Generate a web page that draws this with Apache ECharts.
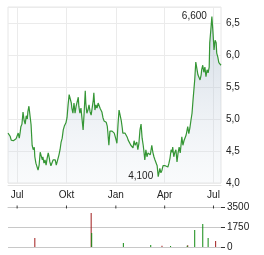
<!DOCTYPE html>
<html><head><meta charset="utf-8">
<script src="https://cdn.jsdelivr.net/npm/echarts@6/dist/echarts.min.js"></script>
<style>html,body{margin:0;padding:0;background:#fff}#c{width:264px;height:255px}</style>
</head><body><div id="c"></div>
<script>
const priceDates = ['2023-06-14','2023-06-16','2023-06-18','2023-06-20','2023-06-22','2023-06-24','2023-06-25','2023-06-27','2023-06-29','2023-07-01',
'2023-07-03','2023-07-05','2023-07-07','2023-07-08','2023-07-10','2023-07-12','2023-07-14','2023-07-16','2023-07-18','2023-07-20',
'2023-07-21','2023-07-23','2023-07-25','2023-07-27','2023-07-29','2023-07-31','2023-08-02','2023-08-03','2023-08-05','2023-08-07',
'2023-08-09','2023-08-11','2023-08-13','2023-08-15','2023-08-17','2023-08-18','2023-08-20','2023-08-22','2023-08-24','2023-08-26',
'2023-08-28','2023-08-30','2023-08-31','2023-09-02','2023-09-04','2023-09-06','2023-09-08','2023-09-10','2023-09-12','2023-09-13',
'2023-09-15','2023-09-17','2023-09-19','2023-09-21','2023-09-23','2023-09-25','2023-09-27','2023-09-28','2023-09-30','2023-10-02',
'2023-10-04','2023-10-06','2023-10-08','2023-10-10','2023-10-11','2023-10-13','2023-10-15','2023-10-17','2023-10-19','2023-10-21',
'2023-10-23','2023-10-24','2023-10-26','2023-10-28','2023-10-30','2023-11-01','2023-11-03','2023-11-05','2023-11-06','2023-11-08',
'2023-11-10','2023-11-12','2023-11-14','2023-11-16','2023-11-18','2023-11-20','2023-11-21','2023-11-23','2023-11-25','2023-11-27',
'2023-11-29','2023-12-01','2023-12-03','2023-12-04','2023-12-06','2023-12-08','2023-12-10','2023-12-12','2023-12-14','2023-12-16',
'2023-12-17','2023-12-19','2023-12-21','2023-12-23','2023-12-25','2023-12-27','2023-12-29','2023-12-30','2024-01-01','2024-01-03',
'2024-01-05','2024-01-07','2024-01-09','2024-01-11','2024-01-13','2024-01-14','2024-01-16','2024-01-18','2024-01-20','2024-01-22',
'2024-01-24','2024-01-26','2024-01-27','2024-01-29','2024-01-31','2024-02-02','2024-02-04','2024-02-06','2024-02-08','2024-02-09',
'2024-02-11','2024-02-13','2024-02-15','2024-02-17','2024-02-19','2024-02-21','2024-02-22','2024-02-24','2024-02-26','2024-02-28',
'2024-03-01','2024-03-03','2024-03-05','2024-03-06','2024-03-08','2024-03-10','2024-03-12','2024-03-14','2024-03-16','2024-03-18',
'2024-03-20','2024-03-21','2024-03-23','2024-03-25','2024-03-27','2024-03-29','2024-03-31','2024-04-02','2024-04-03','2024-04-05',
'2024-04-07','2024-04-09','2024-04-11','2024-04-13','2024-04-15','2024-04-16','2024-04-18','2024-04-20','2024-04-22','2024-04-24',
'2024-04-26','2024-04-28','2024-04-30','2024-05-01','2024-05-03','2024-05-05','2024-05-07','2024-05-09','2024-05-11','2024-05-13',
'2024-05-14','2024-05-16','2024-05-18','2024-05-20','2024-05-22','2024-05-24','2024-05-26','2024-05-27','2024-05-29','2024-05-31',
'2024-06-02','2024-06-04','2024-06-06','2024-06-08','2024-06-09','2024-06-11','2024-06-13','2024-06-15','2024-06-17','2024-06-19',
'2024-06-21','2024-06-23','2024-06-24','2024-06-26','2024-06-28','2024-06-30','2024-07-02','2024-07-04','2024-07-06','2024-07-07',
'2024-07-09','2024-07-11','2024-07-13','2024-07-15'];
const priceValues = [4.78,4.81,4.73,4.67,4.64,4.66,4.67,4.66,4.69,4.70,
4.78,4.70,4.81,4.88,4.92,5.11,4.98,4.92,5.05,5.00,
5.11,5.20,5.17,4.91,4.59,4.52,4.56,4.41,4.31,4.34,
4.20,4.28,4.48,4.42,4.36,4.41,4.31,4.36,4.28,4.39,
4.47,4.39,4.33,4.27,4.25,4.36,4.33,4.36,4.28,4.31,
4.25,4.44,4.52,4.64,4.70,4.83,4.89,4.91,4.94,5.02,
5.22,5.38,5.39,5.25,5.17,5.09,5.25,5.09,5.20,5.17,
5.34,5.20,5.09,5.17,5.14,4.83,5.11,5.44,5.25,5.09,
5.14,5.22,5.11,5.06,5.09,5.30,5.41,5.14,5.22,5.17,
5.25,5.23,5.16,5.14,5.11,5.02,4.97,4.95,4.95,4.89,
4.80,4.59,4.81,4.83,4.81,4.80,4.78,4.77,4.69,4.62,
4.91,5.14,5.16,4.98,4.86,4.78,4.81,4.78,4.77,4.72,
4.67,4.69,4.64,4.59,4.62,4.55,4.66,4.59,4.56,4.64,
4.52,4.62,4.83,4.92,4.70,4.59,4.52,4.36,4.52,4.41,
4.47,4.45,4.44,4.48,4.59,4.48,4.41,4.36,4.39,4.27,
4.10,4.13,4.23,4.16,4.20,4.27,4.27,4.27,4.27,4.28,
4.25,4.31,4.39,4.52,4.48,4.56,4.41,4.48,4.52,4.33,
4.47,4.56,4.47,4.50,4.72,4.59,4.66,4.67,4.75,4.72,
4.88,4.77,4.86,4.98,5.09,5.31,5.34,5.61,5.89,5.88,
5.69,5.72,5.61,5.69,5.77,5.84,5.73,5.81,5.66,5.77,
5.72,5.81,6.19,6.39,6.60,6.36,6.08,6.23,6.19,6.03,
5.97,5.88,5.89,5.84];

const volRedDates = ['2023-08-03','2023-11-16','2024-03-27','2024-05-14','2024-07-05'];
const volRedValues = [790,2975,100,150,525];
const volGreenDates = ['2023-11-17','2024-01-15','2024-03-06','2024-04-12','2024-05-13','2024-05-27','2024-06-11','2024-06-21'];
const volGreenValues = [1225,350,175,80,100,1490,2010,790];

const tickDates = ['2023-07-01','2023-10-01','2024-01-01','2024-04-01','2024-07-01'];
const tickLabels = ['Jul','Okt','Jan','Apr','Jul'];
const priceTicks = [4.0,4.5,5.0,5.5,6.0,6.5];
const volTicks = [0,1750,3500];

function ts(s){const p=s.split('-');return Date.UTC(+p[0],+p[1]-1,+p[2]);}
const tickTs = tickDates.map(ts);
const xMin = ts('2023-06-14'), xMax = ts('2024-07-15');
const FONT = 'Arial, "Liberation Sans", sans-serif';

const chart = echarts.init(document.getElementById('c'), null, {renderer:'canvas'});
chart.setOption({
  animation:false,
  backgroundColor:'#fff',
  grid:[
    {left:8, right:43, top:7, height:176, show:true, borderColor:'#e6e6e6', borderWidth:1, backgroundColor:'transparent'},
    {left:8, right:43, top:207, height:40}
  ],
  xAxis:[
    {type:'value', gridIndex:0, min:xMin, max:xMax,
     axisLine:{show:true, onZero:false, lineStyle:{color:'#e3e3e3'}},
     offset:2,
     axisTick:{show:false, customValues:tickTs},
     axisLabel:{customValues:tickTs, color:'#222', fontSize:10, fontFamily:FONT, margin:5,
       formatter:function(v){const i=tickTs.indexOf(v);return i>=0?tickLabels[i]:'';}},
     splitLine:{show:true, lineStyle:{color:'#ebebeb', width:1}}},
    {type:'value', gridIndex:1, min:xMin, max:xMax, position:'top',
     axisLine:{show:true, onZero:false, lineStyle:{color:'#c8c8c8'}},
     axisTick:{show:false},
     axisLabel:{show:false},
     splitLine:{show:false}}
  ],
  yAxis:[
    {type:'value', gridIndex:0, position:'right', min:4, max:6.75, interval:0.5,
     axisLine:{show:false}, axisTick:{show:false},
     axisLabel:{color:'#222', fontSize:10, fontFamily:FONT, margin:5, showMaxLabel:false,
       formatter:function(v){return priceTicks.some(t=>Math.abs(t-v)<1e-9)?v.toFixed(1).replace('.',','):'';}},
     splitLine:{show:true, lineStyle:{color:'#ebebeb', width:1}}},
    {type:'value', gridIndex:1, position:'right', min:0, max:3500, interval:1750,
     axisLine:{show:false},
     axisTick:{show:true, length:4, lineStyle:{color:'#333'}},
     axisLabel:{color:'#222', fontSize:10, fontFamily:FONT, margin:6,
       formatter:function(v){return volTicks.indexOf(v)>=0?String(v):'';}},
     splitLine:{show:true, lineStyle:{color:'#c8c8c8', width:1}}}
  ],
  series:[
    {type:'line', xAxisIndex:0, yAxisIndex:0, showSymbol:false, symbol:'none',
     data: priceDates.map((d,i)=>[ts(d), priceValues[i]]),
     lineStyle:{color:'#359635', width:1.2},
     areaStyle:{color:new echarts.graphic.LinearGradient(0,0,0,1,[
        {offset:0, color:'rgba(160,178,198,0.7)'},
        {offset:1, color:'rgba(215,224,234,0.2)'}])},
     markPoint:{symbol:'circle', symbolSize:0,
       label:{show:true, position:'left', distance:5, color:'#222', fontSize:10, fontFamily:FONT,
         formatter:function(p){return p.value.toFixed(3).replace('.',',');}},
       data:[{type:'max'},{type:'min'}]}},
    {type:'bar', xAxisIndex:1, yAxisIndex:1, barWidth:1, barGap:'-100%',
     data: volRedDates.map((d,i)=>[ts(d), volRedValues[i]]),
     itemStyle:{color:'#a01c1c'}},
    {type:'bar', xAxisIndex:1, yAxisIndex:1, barWidth:1, barGap:'-100%',
     data: volGreenDates.map((d,i)=>[ts(d), volGreenValues[i]]),
     itemStyle:{color:'#118a11'}},
    {type:'scatter', xAxisIndex:1, yAxisIndex:1, clip:false, silent:true,
     symbol:'rect', symbolSize:[1,3],
     data: tickTs.map(t=>[t, volTicks[volTicks.length-1]]),
     itemStyle:{color:'#111'}}
  ]
});
</script></body></html>
